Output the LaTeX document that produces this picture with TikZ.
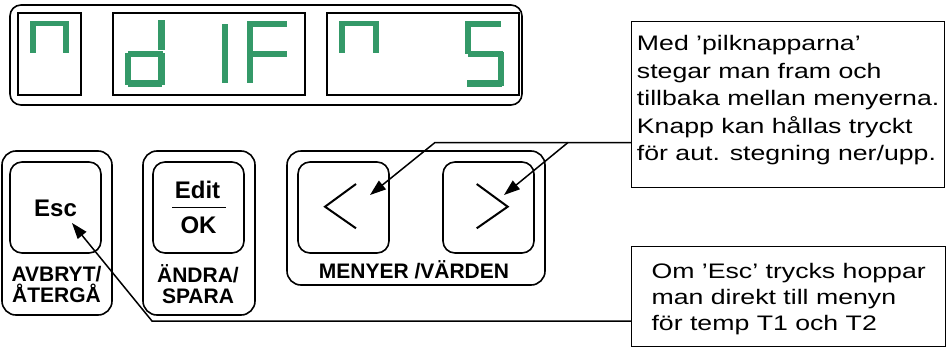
\documentclass[tikz,border=0pt]{standalone}
\usepackage{fontspec}
\setmainfont{Liberation Sans}
\newfontfamily\notefont[FakeStretch=1.27]{Liberation Sans}
\usetikzlibrary{arrows.meta}
\definecolor{segcol}{RGB}{52,153,104}
\begin{document}
\begin{tikzpicture}[x=1pt,y=-1pt,
  frame/.style={draw, line width=1.6pt, rounded corners=14pt, inner sep=0pt},
  keybox/.style={draw, line width=1.6pt, rounded corners=12pt, inner sep=0pt, minimum width=91pt, minimum height=91pt},
  digitbox/.style={draw, line width=2pt, inner sep=0pt, minimum height=82pt},
  seg/.style={fill=segcol},
  keylabel/.style={font=\bfseries\fontsize{21}{21}\selectfont, anchor=base, inner sep=0pt},
  keytext/.style={font=\bfseries\fontsize{24}{24}\selectfont, anchor=base, inner sep=0pt},
  note/.style={draw, line width=1.3pt, anchor=north west, align=left, inner xsep=0pt, inner ysep=0pt, font=\notefont\fontsize{21}{27.5}\selectfont},
  conn/.style={line width=1.5pt},
  arr/.style={conn, -{Triangle[length=16pt,width=11pt]}},
  chev/.style={line width=2pt}
]
\useasboundingbox (0,0) rectangle (947,351);

% display
\node[frame, rounded corners=11pt, minimum width=512pt, minimum height=100pt] (disp) at (266,55) {};
\node[digitbox, minimum width=63pt] (dig1) at (49.5,54) {};
\node[digitbox, minimum width=192pt] (dig2) at (209,54) {};
\node[digitbox, minimum width=192pt] (dig3) at (423,54) {};

% segments digit 1
\fill[seg] (30,21) rectangle (69,26);
\fill[seg] (30,21) rectangle (36,53);
\fill[seg] (63,21) rectangle (69,53);
% digit 2 : d
\fill[seg] (158,20) rectangle (165,50);
\fill[seg] (158,53) rectangle (165,85);
\fill[seg] (128,51) rectangle (163,57);
\fill[seg] (125,53) rectangle (131,85);
\fill[seg] (128,80) rectangle (162,87);
% I
\fill[seg] (222,24) rectangle (228,83);
% F
\fill[seg] (247,21) rectangle (253,83);
\fill[seg] (253,21) rectangle (287,27);
\fill[seg] (253,51) rectangle (287,57);
% digit 3
\fill[seg] (339,21) rectangle (379,26);
\fill[seg] (339,21) rectangle (345,53);
\fill[seg] (373,21) rectangle (379,53);
% S
\fill[seg] (465,21) rectangle (501,27);
\fill[seg] (465,21) rectangle (471,54);
\fill[seg] (468,51) rectangle (503,57);
\fill[seg] (498,52) rectangle (504,86);
\fill[seg] (467,80) rectangle (502,87);

% Esc group
\node[frame, minimum width=110pt, minimum height=164pt] (escgrp) at (57,233) {};
\node[keybox] (esckey) at (55.5,207.5) {};
\node[keytext] (esctxt) at (55.5,216.5) {Esc};
\node[keylabel] (escl1) at (56.5,281) {AVBRYT/};
\node[keylabel] (escl2) at (56.5,302.5) {ÅTERGÅ};

% Edit group
\node[frame, minimum width=112pt, minimum height=164pt] (editgrp) at (199,233) {};
\node[keybox] (editkey) at (198.5,207.5) {};
\node[keytext] (edittxt) at (197.5,198.3) {Edit};
\node[keytext] (oktxt) at (198.5,233.3) {OK};
\draw[line width=1.5pt] (172,207.3) -- (226,207.3);
\node[keylabel] (editl1) at (198,282) {ÄNDRA/};
\node[keylabel] (editl2) at (198,303.3) {SPARA};

% Menu group
\node[frame, minimum width=258pt, minimum height=134pt] (menugrp) at (416,218) {};
\node[keybox] (keyL) at (343.5,207.5) {};
\node[keybox] (keyR) at (488.5,207.5) {};
\draw[chev] (356,184) -- (325,206.7) -- (356,228.3);
\draw[chev] (476.7,184) -- (507.7,206.7) -- (476.7,228.3);
\node[keylabel] (menul) at (414,278.5) {MENYER /VÄRDEN};

% notes
\node[note, minimum width=313pt, minimum height=166pt, text height=125pt, text depth=13pt] (note1) at (631,21)
 {Med ’pilknapparna’\\stegar man fram och\\tillbaka mellan menyerna.\\Knapp kan hållas tryckt\\för aut. stegning ner/upp.};
\node[note, font=\notefont\fontsize{21}{26}\selectfont, minimum width=314pt, minimum height=100pt, text height=67pt, text depth=0pt] (note2) at (631,246)
 {Om ’Esc’ trycks hoppar\\man direkt till menyn\\för temp T1 och T2};

% connectors
\coordinate (j1) at (435,142.5);
\coordinate (b1) at (568,142.5);
\coordinate (tipL) at (370,195);
\coordinate (tipR) at (504,195);
\draw[arr] (note1.west |- j1) -- (j1) -- (tipL);
\draw[arr] (b1) -- (tipR);
\coordinate (j2) at (152,321);
\coordinate (tipE) at (72,223);
\draw[arr] (note2.west |- j2) -- (j2) -- (tipE);
\end{tikzpicture}
\end{document}
